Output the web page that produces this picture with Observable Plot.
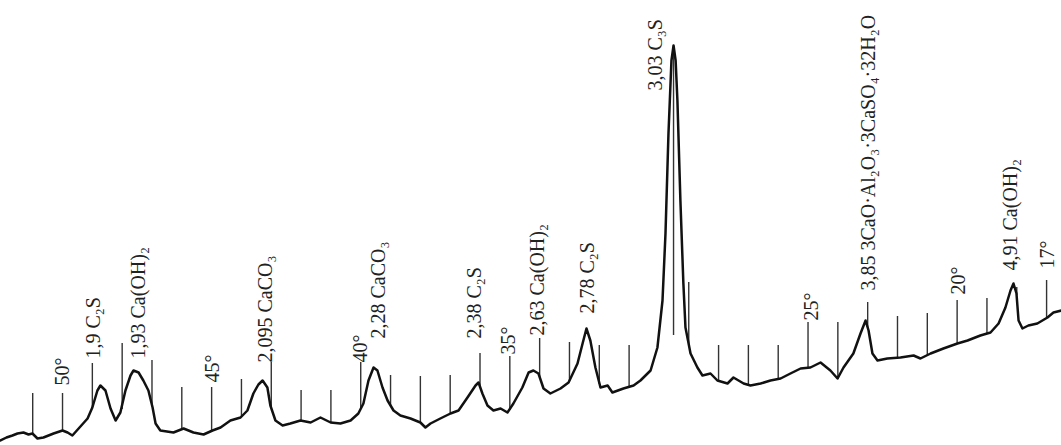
<!DOCTYPE html>
<html>
<head>
<meta charset="utf-8">
<script src="https://cdn.jsdelivr.net/npm/d3@7"></script>
<script src="https://cdn.jsdelivr.net/npm/@observablehq/plot@0.6"></script>
<style>
  html, body { margin: 0; padding: 0; background: #fff; }
  #chart svg { display: block; background: #fff; }
</style>
</head>
<body>
<div id="chart"></div>
<script>
// Diffraction trace: 2θ (degrees) and intensity (arbitrary units)
const twoTheta = [52.08,51.88,51.68,51.51,51.31,51.14,51.01,50.84,50.64,50.30,50.00,49.83,49.67,49.46,49.16,49.00,48.83,48.73,48.56,48.39,48.22,48.06,47.89,47.72,47.62,47.45,47.29,47.12,46.98,46.88,46.72,46.28,45.94,45.61,45.27,44.97,44.70,44.37,44.03,43.80,43.60,43.43,43.29,43.13,43.03,42.86,42.62,42.36,42.02,41.68,41.35,41.01,40.68,40.34,40.08,39.91,39.74,39.57,39.44,39.27,39.10,38.90,38.67,38.33,38.00,37.83,37.66,37.33,36.99,36.72,36.42,36.15,36.05,35.92,35.75,35.55,35.31,35.08,34.88,34.58,34.37,34.21,34.04,33.87,33.64,33.30,33.03,32.73,32.56,32.43,32.30,32.13,31.96,31.72,31.56,31.19,30.85,30.62,30.28,30.05,29.88,29.78,29.68,29.58,29.51,29.44,29.38,29.28,29.18,29.11,28.94,28.71,28.54,28.27,28.04,27.70,27.50,27.16,26.93,26.59,26.26,25.92,25.59,25.25,24.92,24.58,24.25,24.01,23.81,23.48,23.24,23.07,22.97,22.84,22.67,22.34,21.90,21.46,21.23,20.89,20.46,19.99,19.65,19.22,18.88,18.61,18.38,18.21,18.11,18.01,17.94,17.81,17.61,17.31,16.97,16.77,16.50];
const intensity = [5,8,10,12,13,11,12,7,8,12,15,13,10,17,27,38,55,60,55,37,25,33,55,70,75,73,65,55,38,22,15,13,17,13,11,15,18,25,28,35,52,61,65,58,40,25,20,22,25,23,28,23,22,25,32,42,65,78,75,58,45,35,30,27,23,18,22,27,32,35,48,60,63,52,40,35,37,33,42,58,73,75,72,57,52,57,63,82,102,117,105,78,58,60,53,57,60,65,75,98,145,212,312,385,400,385,345,245,162,118,92,78,70,72,65,62,68,62,60,62,65,67,72,77,78,83,75,67,78,92,112,125,115,92,85,87,88,90,87,92,97,102,105,110,113,122,138,155,162,152,125,117,120,122,128,133,135];

// Degree marks drawn on the trace (plus the mark under the main peak)
const tickAngles = [51,50,49,48,47,46,45,44,43,42,41,40,39,38,37,36,35,34,33,32,31,29.51,29,28,27,26,25,24,23,22,21,20,19,18,17];
const tickBase   = [11,14,37,36,40,15,14,28,37,24,22,36,39,22,31,59,35,68,64,61,57,110,99,64,60,66,77,66,117,87,89,101,111,150,127];
const tickTop    = [52,52,82,102,85,58,58,66,83,55,55,83,70,69,70,92,89,107,103,100,100,398,163,100,100,100,123,123,143,129,132,145,147,158,165];

// Peak and angle annotations
const labelText  = ["50°","1,9 C₂S","1,93 Ca(OH)₂","45°","2,095 CaCO₃","40°","2,28 CaCO₃","2,38 C₂S","35°","2,63 Ca(OH)₂","2,78 C₂S","3,03 C₃S","25°","3,85 3CaO·Al₂O₃·3CaSO₄·32H₂O","20°","4,91 Ca(OH)₂","17°"];
const labelAngle = [50.00,48.96,47.45,44.97,43.19,40.01,39.40,36.18,35.05,34.07,32.40,30.12,24.88,22.97,19.95,18.21,16.97];
const labelLevel = [60,87,87,63,83,83,107,107,91,110,132,355,125,155,151,175,177];

const trace = twoTheta.map((t, i) => ({t, i: intensity[i]}));
const ticks = tickAngles.map((t, k) => ({t, base: tickBase[k], top: tickTop[k]}));
const labels = labelText.map((s, k) => ({s, t: labelAngle[k], v: labelLevel[k]}));

const chart = Plot.plot({
  width: 1061,
  height: 445,
  margin: 0,
  x: {domain: [52.08, 16.50], axis: null},
  y: {domain: [0, 445], axis: null},
  marks: [
    Plot.ruleX(ticks, {x: "t", y1: "base", y2: "top", stroke: "#333", strokeWidth: 1.4}),
    Plot.line(trace, {x: "t", y: "i", stroke: "#111", strokeWidth: 2.5, strokeLinejoin: "round", strokeLinecap: "round"}),
    Plot.text(labels, {x: "t", y: "v", text: "s", rotate: -90, textAnchor: "start",
      fontSize: 20, fontFamily: "Liberation Serif, Times New Roman, serif", fill: "#222"})
  ]
});
document.getElementById("chart").appendChild(chart);
</script>
</body>
</html>
